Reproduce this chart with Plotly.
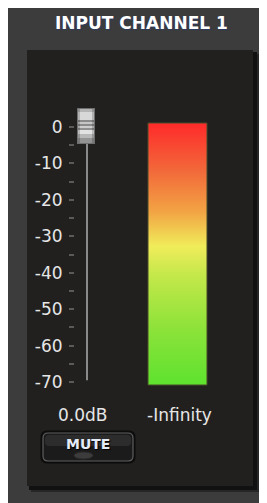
import plotly.graph_objects as go

# ---- data ----
channel_title = "INPUT CHANNEL 1"
scale_ticks = [0, -10, -20, -30, -40, -50, -60, -70]
scale_labels = ["0", "-10", "-20", "-30", "-40", "-50", "-60", "-70"]
scale_min, scale_max = -70, 0
fader_value_db = 0.0          # fader position
meter_level_db = None         # no signal -> -Infinity
mute_label = "MUTE"
meter_colors = [[0.0, "#5ee22e"], [0.22, "#8ee23a"], [0.42, "#c4e84a"],
                [0.53, "#f0ec5a"], [0.66, "#f2a444"], [0.82, "#f2683a"],
                [1.0, "#ff2a2a"]]

W, H = 267, 503
OFF = 8   # page body margin: data coords below are page pixels
FONT = "DejaVu Sans"

# dB axis placement (page pixels): 0 dB at top_px, -70 dB at bot_px
top_px, bot_px = 127, 382
db_per_px = (scale_max - scale_min) / (bot_px - top_px)
# extend the subplot a little so the knob is not clipped
ext_top, ext_bot = 100, 400
y2_range = [scale_min - (ext_bot - bot_px) * db_per_px,
            scale_max + (top_px - ext_top) * db_per_px]
dom = [1 - (ext_bot - OFF) / H, 1 - (ext_top - OFF) / H]
minor_vals = [(a + b) / 2 for a, b in zip(scale_ticks[:-1], scale_ticks[1:])]

fig = go.Figure()

# meter gradient (full scale background of the meter)
mx0, mx1, my0, my1 = 148, 207, 123, 385
fig.add_trace(go.Scatter(
    x=[mx0, mx1, mx1, mx0, mx0], y=[my0, my0, my1, my1, my0],
    mode="lines", line=dict(color="#4a4a2a", width=1), fill="toself",
    fillgradient=dict(type="vertical", colorscale=meter_colors,
                      start=my1, stop=my0),
    hoverinfo="skip", showlegend=False, xaxis="x", yaxis="y"))

# fader track on the dB axis
fig.add_trace(go.Scatter(
    x=[87, 87], y=[scale_min + 0.5, scale_max], mode="lines",
    line=dict(color="#8a8a8a", width=2), hoverinfo="skip",
    showlegend=False, xaxis="x2", yaxis="y2"))

shapes = []
shapes.append(dict(type="rect", xref="x", yref="y", x0=8, x1=280, y0=3, y1=520,
                   fillcolor="#3c3c3c", line=dict(width=0), layer="below"))
shapes.append(dict(type="rect", xref="x", yref="y", x0=31, x1=259, y0=54, y1=492,
                   fillcolor="#262626", line=dict(width=0), layer="below"))
shapes.append(dict(type="rect", xref="x", yref="y", x0=29, x1=257, y0=52, y1=490,
                   fillcolor="#111111", line=dict(width=0), layer="below"))
shapes.append(dict(type="rect", xref="x", yref="y", x0=27, x1=253, y0=50, y1=486,
                   fillcolor="#21201f", line=dict(width=0), layer="below"))

def kb(p0, p1, color, xa=78, xb=94):
    shapes.append(dict(type="rect", xref="x", yref="y2", x0=xa, x1=xb,
                       y0=fader_value_db - p0 * db_per_px,
                       y1=fader_value_db - p1 * db_per_px,
                       fillcolor=color, line=dict(width=0), layer="above"))

kb(-19, 17, "#6e6e6e", 77, 95)
for p0, p1, c in [(-18, -15, "#b4b4b4"), (-15, -7, "#d8d8d8"), (-7, -5, "#8a8a8a"),
                  (-5, -3, "#c6c6c6"), (-3, -1, "#8a8a8a"), (-1, 1, "#cccccc"),
                  (1, 3, "#909090"), (3, 7, "#e2e2e2"), (7, 11, "#b8b8b8"),
                  (11, 16, "#939393")]:
    kb(p0, p1, c)
kb(-18, 16, "rgba(0,0,0,0.18)", 78, 80)
kb(-18, 16, "rgba(0,0,0,0.18)", 92, 94)

def rrect(x0, y0, x1, y1, r):
    return (f"M{x0+r},{y0} L{x1-r},{y0} Q{x1},{y0} {x1},{y0+r} L{x1},{y1-r} "
            f"Q{x1},{y1} {x1-r},{y1} L{x0+r},{y1} Q{x0},{y1} {x0},{y1-r} "
            f"L{x0},{y0+r} Q{x0},{y0} {x0+r},{y0} Z")

shapes.append(dict(type="path", xref="x", yref="y", path=rrect(41, 431, 135, 463, 6),
                   fillcolor="#0e0e0e", line=dict(color="#0a0a0a", width=1)))
shapes.append(dict(type="path", xref="x", yref="y", path=rrect(43, 433, 133, 461, 5),
                   fillcolor="#1b1b1b", line=dict(color="#5e5e5e", width=1.2)))
shapes.append(dict(type="path", xref="x", yref="y", path=rrect(45, 435, 131, 446, 4),
                   fillcolor="#2c2c2c", line=dict(width=0)))
shapes.append(dict(type="circle", xref="x", yref="y", x0=74, x1=93, y0=452, y1=459,
                   fillcolor="#3c3c3c", line=dict(color="#2a2a2a", width=1)))

annotations = [
    dict(text=f"<b>{channel_title}</b>", x=141, y=23, xref="x", yref="y",
         showarrow=False, font=dict(family=FONT, size=17, color="#ffffff",
                                    shadow="1px 1px 1px #2a3a60")),
    dict(text=f"{fader_value_db:.1f}dB", x=82.5, y=415, xref="x", yref="y",
         showarrow=False, font=dict(family=FONT, size=17, color="#e6e6e6")),
    dict(text="-Infinity" if meter_level_db is None else f"{meter_level_db:.1f}dB",
         x=179.5, y=415, xref="x", yref="y",
         showarrow=False, font=dict(family=FONT, size=17, color="#e6e6e6")),
    dict(text=f"<b>{mute_label}</b>", x=88, y=444, xref="x", yref="y",
         showarrow=False, font=dict(family=FONT, size=14, color="#e4ecf8",
                                    shadow="1px 1px 1px #000000")),
]

fig.update_layout(
    width=W, height=H, margin=dict(l=0, r=0, t=0, b=0, autoexpand=False),
    paper_bgcolor="#ffffff", plot_bgcolor="rgba(0,0,0,0)",
    shapes=shapes, annotations=annotations, showlegend=False,
    xaxis=dict(range=[OFF, W + OFF], visible=False, domain=[0, 1],
               fixedrange=True, automargin=False),
    yaxis=dict(range=[H + OFF, OFF], visible=False, domain=[0, 1],
               fixedrange=True, automargin=False),
    xaxis2=dict(range=[OFF, W + OFF], visible=False, domain=[0, 1], anchor="y2",
                fixedrange=True, automargin=False),
    yaxis2=dict(range=y2_range, domain=dom, anchor="free",
                position=(74 - OFF) / W, showline=False, showgrid=False,
                zeroline=False, automargin=False,
                tickvals=scale_ticks, ticktext=scale_labels,
                ticks="outside", ticklen=5,
                tickcolor="#5a5a5a", tickwidth=1.5, ticklabelstandoff=3,
                tickfont=dict(family=FONT, size=17, color="#e6e6e6"),
                minor=dict(tickvals=minor_vals, ticks="outside", ticklen=5,
                           tickcolor="#5a5a5a", tickwidth=1.5),
                fixedrange=True),
)

fig.write_html("out.html")
